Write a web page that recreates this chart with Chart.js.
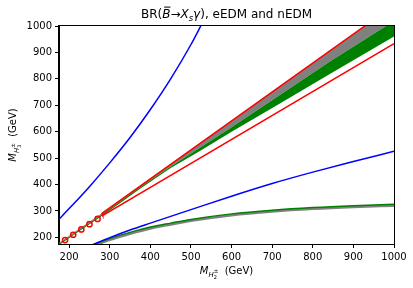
<!DOCTYPE html>
<html><head><meta charset="utf-8">
<script src="https://cdn.jsdelivr.net/npm/chart.js@4.4.0/dist/chart.umd.min.js"></script>
<style>html,body{margin:0;padding:0;background:#fff}canvas{display:block}</style>
</head><body>
<div style="width:413px;height:288px"><canvas id="c" width="413" height="288"></canvas></div>
<script>
const xTicks = [200,300,400,500,600,700,800,900,1000];
const yTicks = [200,300,400,500,600,700,800,900,1000];
const blueUpperX = [175,200,250,300,350,400,450,500,524,540];
const blueUpperY = [269,309,392,482,578,684,800,930,1000,1048];
const blueLowerX = [245,262,300,350,400,500,600,700,800,900,1000];
const blueLowerY = [164,175,199,228,254,305,356,404,447,487,526];
const bandX = [175,230,286,380,450,521,600,718,842,1000];
const grayTopY = [180,238,297,401,477,555,641,771,906,1079];
const grayBottomY = [176,234,292,395,468,538,617,738,866,1019];
const greenBottomY = [171,229,287,390,463,526,600,706,818,960];
const lowX = [258,266,300,350,400,450,500,600,700,800,900,1000];
const lowGreenY = [170,176,196,219,239,254,268,289,303,313,320,325];
const lowGrayY = [165,171,191,214,234,249,263,284,298,308,315,320];
const redX = [1000,281,283,1000];
const redY = [1079,291,283,933];
const circleX = [190,210,230,250,270];
const circleY = [190,210,230,250,270];

const zip = (xs, ys) => xs.map((x, i) => ({x: x, y: ys[i]}));
const FONT = "'DejaVu Sans', sans-serif";

function drawRuns(ctx, runs, cx, by) {
  let total = 0;
  const widths = runs.map(r => {
    ctx.font = (r.it ? 'italic ' : '') + r.s + 'px ' + FONT;
    let w = ctx.measureText(r.t).width;
    if (r.st) {
      ctx.font = (r.st.it ? 'italic ' : '') + r.st.s + 'px ' + FONT;
      w = Math.max(w, ctx.measureText(r.st.t).width);
    }
    total += w; return w;
  });
  let x = cx - total / 2;
  ctx.fillStyle = '#000';
  ctx.textBaseline = 'alphabetic';
  ctx.textAlign = 'left';
  runs.forEach((r, i) => {
    ctx.font = (r.it ? 'italic ' : '') + r.s + 'px ' + FONT;
    ctx.fillText(r.t, x, by + (r.dy || 0));
    if (r.bar) {
      const w = ctx.measureText(r.t).width;
      ctx.fillRect(x + 2, by - r.s * 0.95, w - 2, 1);
    }
    if (r.st) {
      ctx.font = (r.st.it ? 'italic ' : '') + r.st.s + 'px ' + FONT;
      ctx.fillText(r.st.t, x, by + (r.st.dy || 0));
    }
    x += widths[i];
  });
}

const textPlugin = {
  id: 'texts',
  afterDraw(chart) {
    const ctx = chart.ctx, a = chart.chartArea;
    ctx.save();
    ctx.strokeStyle = '#000'; ctx.lineWidth = 1;
    ctx.strokeRect(Math.round(a.left) - 0.5, Math.round(a.top) - 0.5, Math.round(a.right - a.left) + 1, Math.round(a.bottom - a.top) + 1);
    const cx = (a.left + a.right) / 2;
    drawRuns(ctx, [
      {t: 'BR(', s: 12},
      {t: 'B', s: 12, it: true, bar: true},
      {t: '\u2192', s: 12},
      {t: 'X', s: 12, it: true},
      {t: 's', s: 8.5, it: true, dy: 2.5},
      {t: '\u03b3', s: 12, it: true},
      {t: '), eEDM and nEDM', s: 12}
    ], cx, 18);
    const lab = n => [
      {t: 'M', s: 10, it: true},
      {t: 'H', s: 7, it: true, dy: 2.5},
      {t: '\u00b1', s: 5.5, dy: -1, st: {t: n, s: 5, dy: 4.5}},
      {t: '  (GeV)', s: 10}
    ];
    drawRuns(ctx, lab('2'), cx, 274);
    ctx.translate(16, (a.top + a.bottom) / 2);
    ctx.rotate(-Math.PI / 2);
    drawRuns(ctx, lab('3'), 0, 0);
    ctx.restore();
  }
};

const axisCommon = {
  type: 'linear', min: 175, max: 1000,
  ticks: {font: {family: FONT, size: 10}, color: '#000', padding: 3, autoSkip: false, maxRotation: 0, callback: v => String(v)},
  grid: {drawOnChartArea: false, drawTicks: true, tickLength: 4, color: '#000', lineWidth: 1},
  border: {display: true, color: '#000', width: 1}
};

new Chart(document.getElementById('c'), {
  type: 'line',
  data: {
    datasets: [
      {data: zip(circleX, circleY), showLine: false, pointStyle: 'circle', pointRadius: 2.6, pointBorderWidth: 1.5,
       pointBorderColor: '#ff0000', pointBackgroundColor: 'rgba(0,0,0,0)', order: 0, clip: 0},
      {data: zip(redX, redY), borderColor: '#ff0000', borderWidth: 1.5, pointRadius: 0, fill: false, order: 1, clip: 0},
      {data: zip(blueUpperX, blueUpperY), borderColor: '#0000ff', borderWidth: 1.5, pointRadius: 0, fill: false, order: 2, clip: 0, cubicInterpolationMode: 'monotone'},
      {data: zip(blueLowerX, blueLowerY), borderColor: '#0000ff', borderWidth: 1.5, pointRadius: 0, fill: false, order: 3, clip: 0, cubicInterpolationMode: 'monotone'},
      {data: zip(lowX, lowGreenY), borderColor: '#008000', borderWidth: 1.5, pointRadius: 0, fill: false, order: 4, clip: 0, cubicInterpolationMode: 'monotone'},
      {data: zip(lowX, lowGrayY), borderColor: '#808080', borderWidth: 2.5, pointRadius: 0, fill: false, order: 5, clip: 0, cubicInterpolationMode: 'monotone'},
      {data: zip(bandX, grayTopY), borderColor: '#808080', borderWidth: 0, pointRadius: 0, fill: false, order: 8, clip: 0},
      {data: zip(bandX, grayBottomY), borderColor: '#808080', borderWidth: 0, pointRadius: 0, fill: '-1', backgroundColor: '#808080', order: 7, clip: 0},
      {data: zip(bandX, greenBottomY), borderColor: '#008000', borderWidth: 0, pointRadius: 0, fill: '-1', backgroundColor: '#008000', order: 6, clip: 0}
    ]
  },
  options: {
    responsive: false, animation: false, devicePixelRatio: 1,
    layout: {padding: {top: 26, right: 19, left: 0, bottom: 0}},
    plugins: {legend: {display: false}, title: {display: false}, tooltip: {enabled: false}},
    scales: {
      x: Object.assign({}, axisCommon, {
        afterBuildTicks: s => { s.ticks = xTicks.map(v => ({value: v})); },
        afterFit: s => { s.height = 44; }
      }),
      y: Object.assign({}, axisCommon, {
        afterBuildTicks: s => { s.ticks = yTicks.map(v => ({value: v})); },
        afterFit: s => { s.width = 59; }
      })
    }
  },
  plugins: [textPlugin]
});
</script>
</body></html>
